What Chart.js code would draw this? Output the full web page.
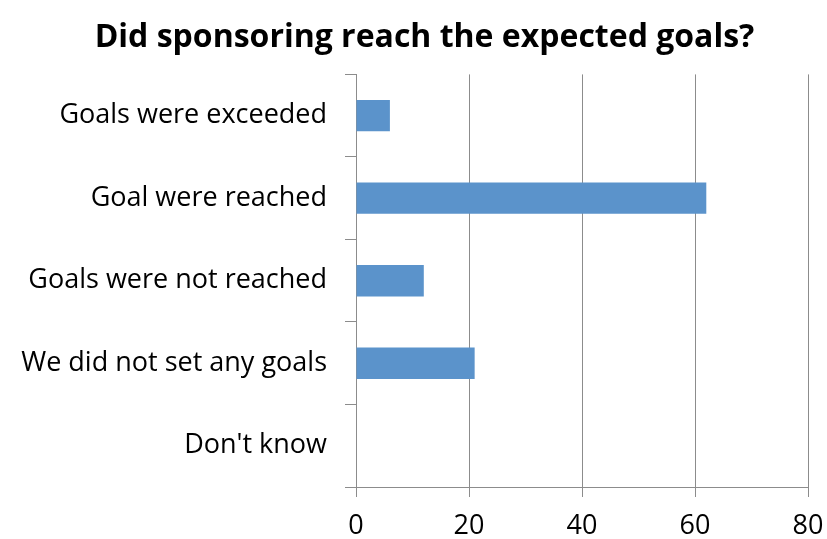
<!DOCTYPE html>
<html>
<head>
<meta charset="utf-8">
<script src="https://cdn.jsdelivr.net/npm/chart.js@4/dist/chart.umd.min.js"></script>
<style>
  html, body { margin: 0; padding: 0; background: #fff; }
  #wrap { width: 827px; height: 539px; }
</style>
</head>
<body>
<div id="wrap"><canvas id="c" width="827" height="539"></canvas></div>
<script>
const categories = ["Goals were exceeded", "Goal were reached", "Goals were not reached", "We did not set any goals", "Don't know"];
const values = [6, 62, 12, 21, 0];
const xTicks = [0, 20, 40, 60, 80];
const titleText = "Did sponsoring reach the expected goals?";

const gridColor = "#8c8c8c";
const barColor = "#5b93cb";
const fontFamily = "'Open Sans', 'Noto Sans', sans-serif";

// shift the title's horizontal band so it is centred like the reference
const titleShift = {
  id: 'titleShift',
  afterLayout(chart) {
    if (chart.titleBlock) { chart.titleBlock.left = 41; }
  }
};

new Chart(document.getElementById('c'), {
  type: 'bar',
  data: {
    labels: categories,
    datasets: [{
      data: values,
      backgroundColor: barColor,
      borderWidth: 0,
      categoryPercentage: 1,
      barPercentage: 0.38
    }]
  },
  plugins: [titleShift],
  options: {
    indexAxis: 'y',
    responsive: false,
    animation: false,
    layout: { padding: { left: 0, right: 19, top: 0, bottom: 0 } },
    plugins: {
      legend: { display: false },
      tooltip: { enabled: false },
      title: {
        display: true,
        text: titleText,
        color: '#000',
        font: { family: fontFamily, size: 32, weight: 'bold', lineHeight: 1.2 },
        padding: { top: 19, bottom: 17 }
      }
    },
    scales: {
      x: {
        min: xTicks[0],
        max: xTicks[xTicks.length - 1],
        afterBuildTicks: (s) => { s.ticks = xTicks.map(v => ({ value: v })); },
        afterFit: (s) => { s.height = 52; s.paddingLeft = 0; s.paddingRight = 0; },
        grid: { color: gridColor, lineWidth: 1, drawTicks: true, tickLength: 10, tickColor: gridColor },
        border: { color: gridColor, width: 1 },
        ticks: { color: '#000', font: { family: fontFamily, size: 27 }, padding: 13 }
      },
      y: {
        afterFit: (s) => { s.width = 356; s.paddingTop = 0; s.paddingBottom = 0; },
        grid: { offset: true, drawOnChartArea: false, drawTicks: true, tickLength: 11, tickColor: gridColor, color: gridColor },
        border: { color: gridColor, width: 1 },
        ticks: { color: '#000', font: { family: fontFamily, size: 27 }, padding: 18 }
      }
    }
  }
});
</script>
</body>
</html>
